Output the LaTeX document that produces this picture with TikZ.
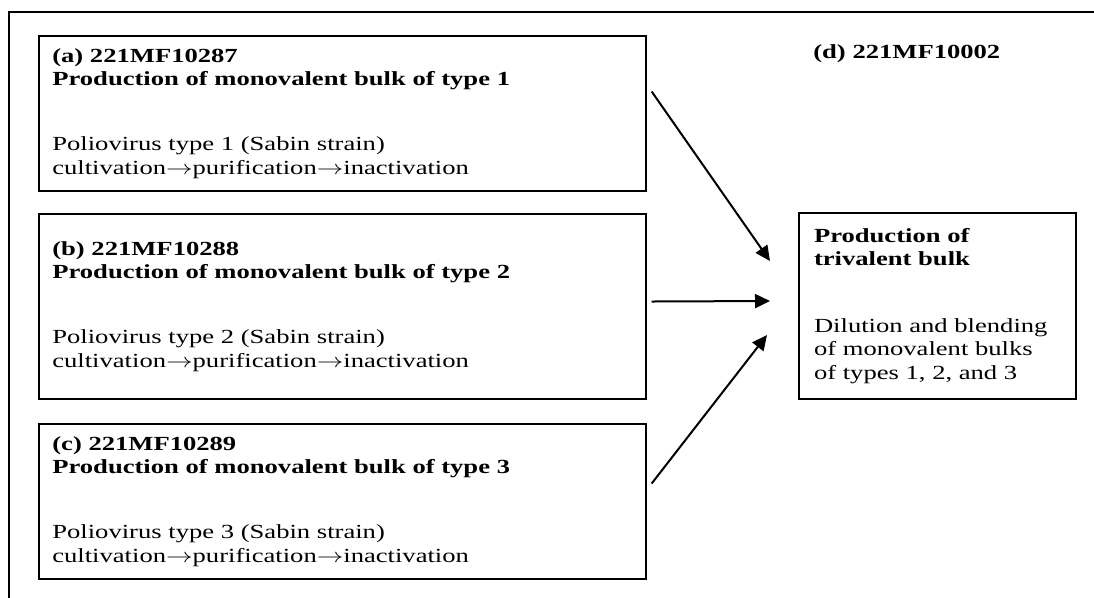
\documentclass[tikz,border=0pt]{standalone}
\usepackage{fontspec}
\usepackage{graphicx}
\setmainfont{Liberation Serif}[FakeStretch=1.33]
\usetikzlibrary{arrows.meta, calc}
\newcommand{\stepto}{\scalebox{1.33}[1]{$\rightarrow$}}

\begin{document}
\begin{tikzpicture}[
  x=0.6pt, y=-0.6pt,
  >={Triangle[length=9pt, width=8.4pt]},
  stagebox/.style={
    draw, line width=1.2pt, anchor=north west, align=left,
    font=\fontsize{12}{14}\selectfont, inner xsep=#1, inner ysep=0pt
  },
  flow/.style={->, line width=1.2pt},
]

% Page size and outer frame
\useasboundingbox (0,0) rectangle (1094,597);
\clip (0,0) rectangle (1094,597);
\draw[line width=1.2pt] (9,620) |- (1120,12);

% =============================================
% Monovalent bulks (left)
% =============================================
\node[stagebox=8pt, text width=348pt, minimum height=93pt] (mono1) at (38,35)
  {\textbf{(a) 221MF10287}\\
   \textbf{Production of monovalent bulk of type 1}\\[25pt]
   Poliovirus type 1 (Sabin strain)\\
   cultivation\stepto purification\stepto inactivation};

\node[stagebox=8pt, text width=348pt, minimum height=111pt] (mono2) at (38,213)
  {\textbf{(b) 221MF10288}\\
   \textbf{Production of monovalent bulk of type 2}\\[25pt]
   Poliovirus type 2 (Sabin strain)\\
   cultivation\stepto purification\stepto inactivation};

\node[stagebox=8pt, text width=348pt, minimum height=93pt] (mono3) at (38,423)
  {\textbf{(c) 221MF10289}\\
   \textbf{Production of monovalent bulk of type 3}\\[25pt]
   Poliovirus type 3 (Sabin strain)\\
   cultivation\stepto purification\stepto inactivation};

% =============================================
% Trivalent bulk (right)
% =============================================
\node[font=\fontsize{12}{14}\selectfont\bfseries, anchor=base west, inner sep=0pt]
  (trilbl) at (813,58) {(d) 221MF10002};

\node[stagebox=9pt, text width=148pt, minimum height=111.6pt] (tri) at (798,212)
  {\textbf{Production of}\\
   \textbf{trivalent bulk}\\[26pt]
   Dilution and blending\\
   of monovalent bulks\\
   of types 1, 2, and 3};

% =============================================
% Arrows
% =============================================
\draw[flow] ($(mono1.east)+(5,-22)$) -- ($(tri.west)+(-28,-45)$);
\draw[flow] ($(mono2.east)+(5,-5)$) -- ($(tri.west)+(-28,-5)$);
\draw[flow] ($(mono3.east)+(5,-18)$) -- ($(tri.west)+(-31,29)$);

\end{tikzpicture}
\end{document}
